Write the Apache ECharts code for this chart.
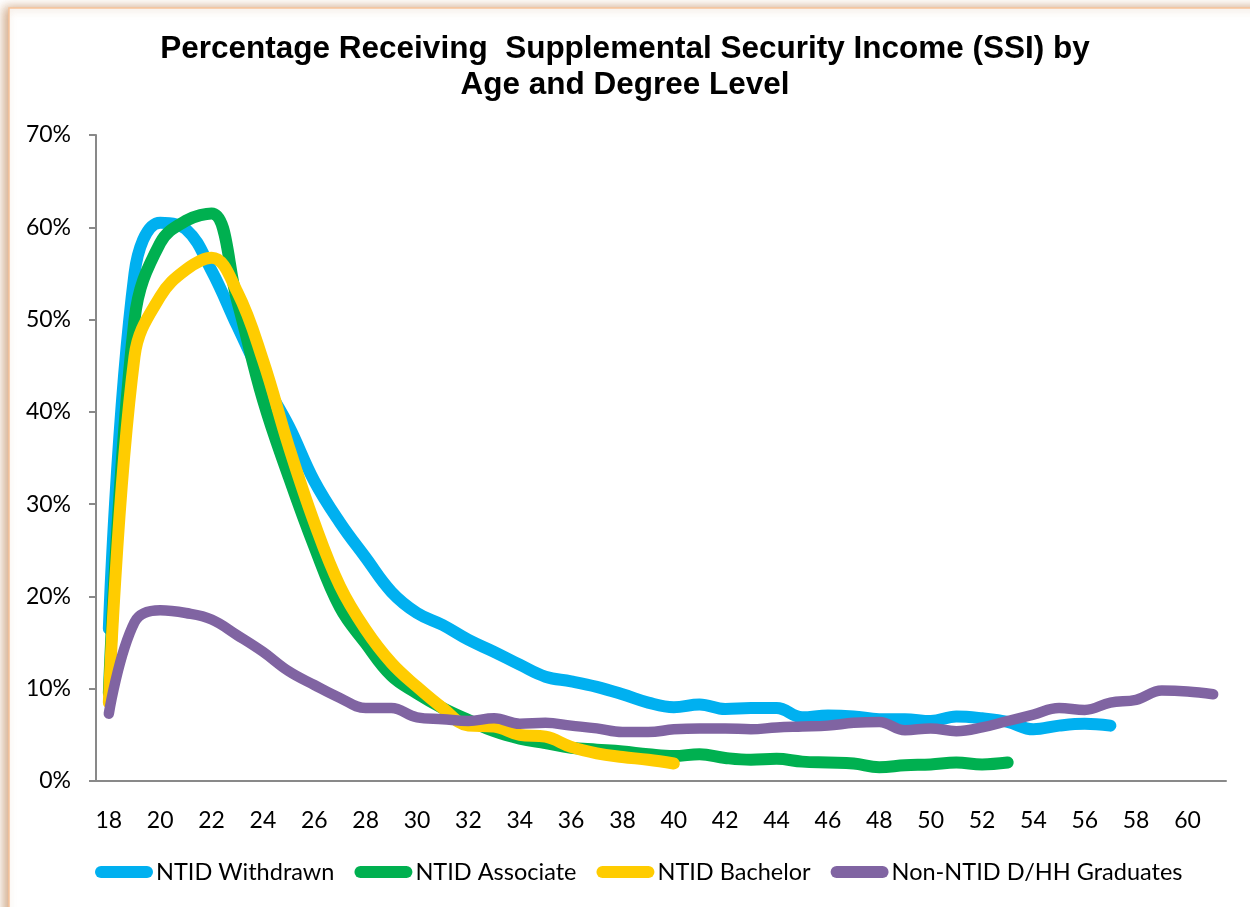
<!DOCTYPE html>
<html>
<head>
<meta charset="utf-8">
<script src="https://cdn.jsdelivr.net/npm/echarts@6/dist/echarts.min.js"></script>
<style>
html,body{margin:0;padding:0;background:#fff;}
#chart{width:1250px;height:907px;}
</style>
</head>
<body>
<div id="chart"></div>
<script>
const titleText = 'Percentage Receiving  Supplemental Security Income (SSI) by\nAge and Degree Level';
const ages = ['18','19','20','21','22','23','24','25','26','27','28','29','30','31','32','33','34','35','36','37','38','39','40','41','42','43','44','45','46','47','48','49','50','51','52','53','54','55','56','57','58','59','60','61'];
const seriesNames = ['NTID Withdrawn','NTID Associate','NTID Bachelor','Non-NTID D/HH Graduates'];
// values in percent, starting at age 18
const withdrawn = [16.5,55.0,60.5,59.8,55.3,49.3,43.5,38.5,32.5,28.0,24.2,20.5,18.2,16.9,15.3,14.0,12.6,11.3,10.8,10.2,9.4,8.5,8.0,8.3,7.8,7.9,7.9,6.9,7.1,7.0,6.7,6.7,6.5,7.0,6.8,6.4,5.6,6.0,6.2,6.0];
const associate = [9.5,50.0,58.3,60.7,61.5,52.0,41.3,33.0,25.4,18.8,14.9,11.4,9.5,7.9,6.6,5.4,4.6,4.1,3.6,3.4,3.2,2.9,2.7,2.9,2.5,2.3,2.4,2.1,2.0,1.9,1.5,1.7,1.8,2.0,1.8,2.0];
const bachelor = [8.5,46.0,52.5,55.4,56.7,53.0,45.6,36.3,28.0,21.1,16.4,12.8,10.2,7.9,6.0,5.9,5.0,4.8,3.7,3.0,2.6,2.3,1.9];
const nonNtid = [7.3,17.2,18.5,18.2,17.5,15.8,14.0,11.9,10.4,9.0,7.9,7.9,6.9,6.7,6.5,6.8,6.2,6.3,6.0,5.7,5.3,5.3,5.6,5.7,5.7,5.6,5.8,5.9,6.0,6.3,6.4,5.5,5.7,5.4,5.8,6.5,7.2,7.9,7.7,8.5,8.8,9.8,9.7,9.4];
const colors = ['#00B0F0','#00B050','#FFCC00','#8064A2'];
const widths = [12,12,12,10.5];
const dataSets = [withdrawn, associate, bachelor, nonNtid];

const chart = echarts.init(document.getElementById('chart'));
const labelFont = 'Lato, "Open Sans", sans-serif';
const option = {
  animation: false,
  backgroundColor: 'transparent',
  graphic: [{
    type: 'rect', z: -100, silent: true,
    shape: {x: 9, y: 8, width: 1400, height: 1100},
    style: {fill: '#fff', stroke: '#F8C49A', lineWidth: 1.5,
      shadowBlur: 10, shadowColor: 'rgba(170,100,40,0.55)', shadowOffsetX: -4, shadowOffsetY: 0}
  }],
  title: {
    text: titleText, left: 'center', top: 26,
    textStyle: {fontFamily: '"Liberation Sans", Arial, sans-serif', fontWeight: 'bold', fontSize: 31.5, lineHeight: 36, color: '#000'}
  },
  legend: {
    bottom: 18, left: 90, itemGap: 20, itemWidth: 58, itemHeight: 12,
    icon: 'path://M6 0H52A6 6 0 0 1 52 12H6A6 6 0 0 1 6 0Z',
    textStyle: {fontFamily: labelFont, fontSize: 23.5, color: '#000', padding: [0,0,0,-2]},
    data: seriesNames
  },
  grid: {left: 96, right: 24, top: 135, bottom: 126, containLabel: false},
  xAxis: {
    type: 'category', data: ages, boundaryGap: true,
    axisLine: {lineStyle: {color: '#898989', width: 2}},
    axisTick: {interval: 0, length: 7, lineStyle: {color: '#898989', width: 2}},
    axisLabel: {interval: 1, margin: 28, fontFamily: labelFont, fontSize: 23, color: '#000'},
    splitLine: {show: false}
  },
  yAxis: {
    type: 'value', min: 0, max: 70, interval: 10,
    axisLine: {show: true, lineStyle: {color: '#898989', width: 2}},
    axisTick: {show: true, length: 7, lineStyle: {color: '#898989', width: 2}},
    axisLabel: {formatter: '{value}%', margin: 25, fontFamily: labelFont, fontSize: 23, color: '#000'},
    splitLine: {show: false}
  },
  series: dataSets.map((d, i) => ({
    name: seriesNames[i], type: 'line', data: d, smooth: 0.4,
    showSymbol: false, symbol: 'none',
    itemStyle: {color: colors[i]},
    lineStyle: {color: colors[i], width: widths[i], cap: 'round', join: 'round'}
  }))
};
chart.setOption(option);
</script>
</body>
</html>
